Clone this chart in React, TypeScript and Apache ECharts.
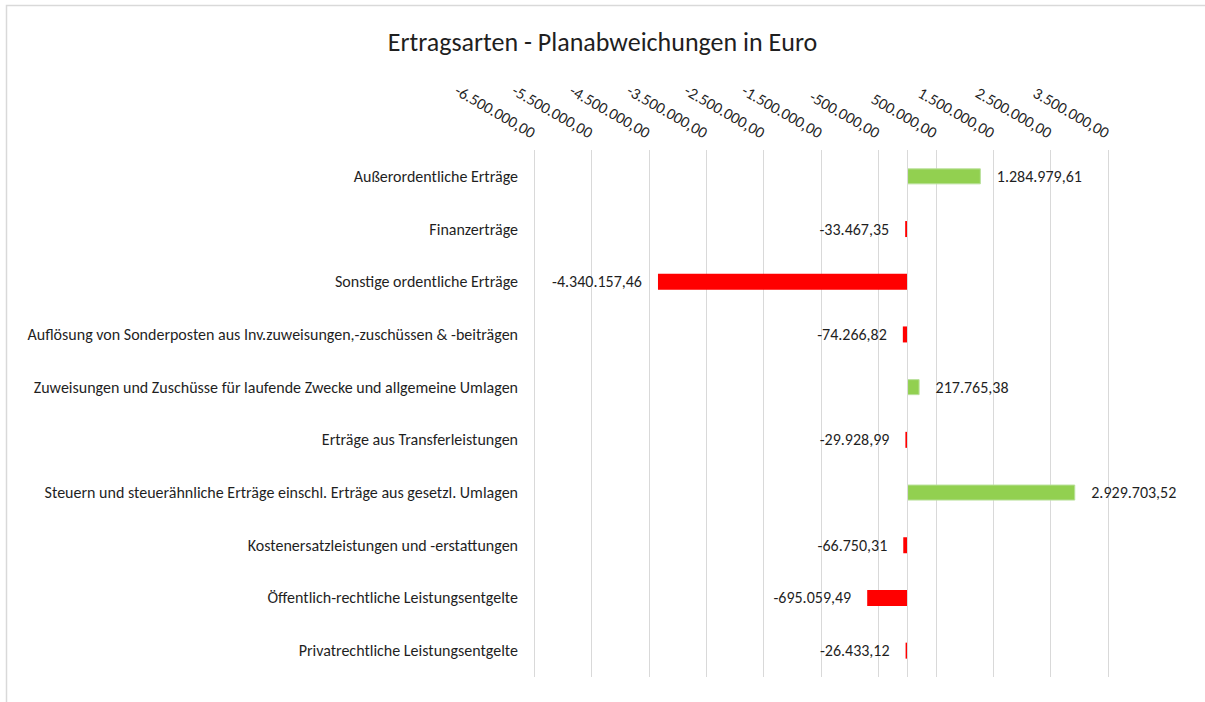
import React, { useEffect, useRef } from "react";
import * as echarts from "echarts";

const TITLE = "Ertragsarten - Planabweichungen in Euro";

const categories: string[] = [
  "Außerordentliche Erträge",
  "Finanzerträge",
  "Sonstige ordentliche Erträge",
  "Auflösung von Sonderposten aus Inv.zuweisungen,-zuschüssen & -beiträgen",
  "Zuweisungen und Zuschüsse für laufende Zwecke und allgemeine Umlagen",
  "Erträge aus Transferleistungen",
  "Steuern und steuerähnliche Erträge einschl. Erträge aus gesetzl. Umlagen",
  "Kostenersatzleistungen und -erstattungen",
  "Öffentlich-rechtliche Leistungsentgelte",
  "Privatrechtliche Leistungsentgelte",
];

const deviations: number[] = [
  1284979.61,
  -33467.35,
  -4340157.46,
  -74266.82,
  217765.38,
  -29928.99,
  2929703.52,
  -66750.31,
  -695059.49,
  -26433.12,
];

const AXIS_MIN = -6500000;
const AXIS_MAX = 3500000;
const AXIS_STEP = 1000000;

const POS_COLOR = "#92D050";
const NEG_COLOR = "#FF0000";
const FONT = "Carlito, Calibri, Lato, sans-serif";
const TEXT_COLOR = "#1f1f1f";
const GRID_COLOR = "#D9D9D9";

function formatDe(v: number): string {
  const neg = v < 0;
  const abs = Math.abs(v);
  const fixed = abs.toFixed(2);
  const [intPart, dec] = fixed.split(".");
  const withDots = intPart.replace(/\B(?=(\d{3})+(?!\d))/g, ".");
  return (neg ? "-" : "") + withDots + "," + dec;
}

export default function App() {
  const ref = useRef<HTMLDivElement>(null);

  useEffect(() => {
    if (!ref.current) return;
    const chart = echarts.init(ref.current, null, { renderer: "svg" });

    const data = deviations.map((v) => ({
      value: v,
      itemStyle: {
        color: v >= 0 ? POS_COLOR : NEG_COLOR,
        borderColor: v >= 0 ? "#B9E09A" : NEG_COLOR,
        borderWidth: v >= 0 ? 1 : 0,
      },
      label: { position: v >= 0 ? "right" : "left" },
    }));

    chart.setOption({
      animation: false,
      backgroundColor: "#ffffff",
      title: {
        text: TITLE,
        left: "center",
        top: 24,
        textStyle: {
          fontFamily: FONT,
          fontSize: 26,
          fontWeight: "normal",
          color: TEXT_COLOR,
        },
      },
      graphic: [
        {
          type: "rect",
          shape: { x: 6.5, y: 5.5, width: 1205, height: 702 },
          style: { fill: "none", stroke: GRID_COLOR, lineWidth: 1.5 },
          silent: true,
        },
      ],
      grid: {
        left: 534,
        right: 97,
        top: 150,
        bottom: 25,
        containLabel: false,
      },
      xAxis: {
        type: "value",
        position: "top",
        min: AXIS_MIN,
        max: AXIS_MAX,
        interval: AXIS_STEP,
        axisLine: { show: false },
        axisTick: { show: false },
        splitLine: { show: true, lineStyle: { color: GRID_COLOR, width: 1 } },
        axisLabel: {
          rotate: 30,
          margin: 16,
          fontFamily: FONT,
          fontSize: 16,
          color: TEXT_COLOR,
          formatter: (v: number) => formatDe(v),
        },
      },
      yAxis: {
        type: "category",
        data: categories,
        inverse: true,
        axisLine: { show: false, onZero: false },
        axisTick: { show: false },
        splitLine: { show: false },
        axisLabel: {
          margin: 16,
          fontFamily: FONT,
          fontSize: 16,
          color: TEXT_COLOR,
        },
      },
      series: [
        {
          type: "bar",
          data,
          barWidth: 16,
          label: {
            show: true,
            distance: 16,
            fontFamily: FONT,
            fontSize: 16,
            color: TEXT_COLOR,
            formatter: (p: any) => formatDe(p.value),
          },
          markLine: {
            silent: true,
            symbol: "none",
            label: { show: false },
            lineStyle: { color: GRID_COLOR, width: 1, type: "solid" },
            data: [{ xAxis: 0 }],
          },
        },
      ],
    });

    return () => chart.dispose();
  }, []);

  return (
    <div
      ref={ref}
      style={{ position: "absolute", left: 0, top: 0, width: 1205, height: 702 }}
    />
  );
}
